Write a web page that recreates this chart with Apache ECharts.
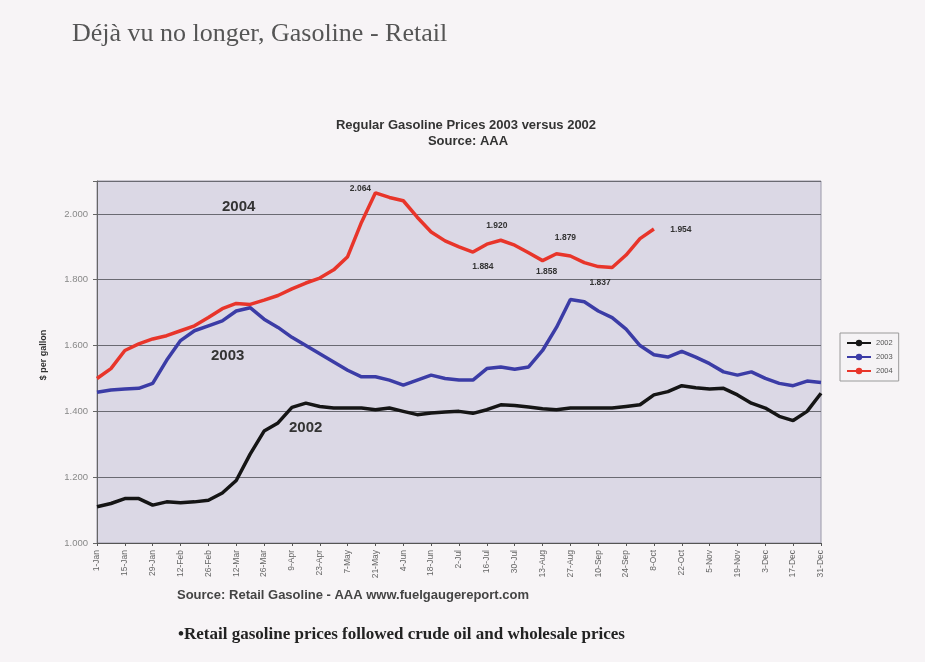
<!DOCTYPE html>
<html>
<head>
<meta charset="utf-8">
<script src="https://cdn.jsdelivr.net/npm/echarts@6/dist/echarts.min.js"></script>
<style>
  html, body { margin: 0; padding: 0; background: #f7f4f6; }
  #chart { width: 925px; height: 662px; }
</style>
</head>
<body>
<div id="chart"></div>
<script>
// Weekly dates (category axis)
var weeks = ['1-Jan','8-Jan','15-Jan','22-Jan','29-Jan','5-Feb','12-Feb','19-Feb','26-Feb','5-Mar','12-Mar','19-Mar','26-Mar',
  '2-Apr','9-Apr','16-Apr','23-Apr','30-Apr','7-May','14-May','21-May','28-May','4-Jun','11-Jun','18-Jun','25-Jun',
  '2-Jul','9-Jul','16-Jul','23-Jul','30-Jul','6-Aug','13-Aug','20-Aug','27-Aug','3-Sep','10-Sep','17-Sep','24-Sep',
  '1-Oct','8-Oct','15-Oct','22-Oct','29-Oct','5-Nov','12-Nov','19-Nov','26-Nov','3-Dec','10-Dec','17-Dec','24-Dec','31-Dec'];

var s2002 = [1.110,1.120,1.135,1.135,1.115,1.125,1.122,1.125,1.130,1.152,1.190,1.270,1.340,1.365,1.412,1.425,1.415,1.410,
  1.410,1.410,1.405,1.410,1.400,1.390,1.395,1.398,1.400,1.394,1.405,1.420,1.418,1.413,1.408,1.405,1.410,
  1.410,1.410,1.410,1.415,1.420,1.450,1.460,1.478,1.472,1.468,1.470,1.450,1.425,1.410,1.385,1.372,1.400,1.455];

var s2003 = [1.458,1.465,1.468,1.470,1.485,1.555,1.615,1.645,1.660,1.675,1.705,1.715,1.680,1.655,1.625,1.600,1.575,1.550,
  1.525,1.505,1.505,1.495,1.480,1.495,1.510,1.500,1.495,1.495,1.530,1.535,1.528,1.535,1.585,1.655,1.740,
  1.733,1.705,1.685,1.650,1.600,1.572,1.565,1.582,1.565,1.545,1.520,1.510,1.520,1.500,1.485,1.478,1.492,1.488];

var s2004 = [1.500,1.530,1.585,1.605,1.620,1.630,1.645,1.660,1.685,1.712,1.728,1.725,1.738,1.752,1.772,1.790,1.805,1.830,
  1.870,1.975,2.064,2.050,2.040,1.990,1.945,1.918,1.900,1.884,1.908,1.920,1.905,1.882,1.858,1.879,1.872,
  1.852,1.840,1.837,1.875,1.925,1.954];

var seriesNames = ['2002', '2003', '2004'];

// Annotated points on the 2004 curve: week index and label offset
var notes2004 = [
  {i: 20, dx: -15, dy: -4},
  {i: 29, dx: -4, dy: -15},
  {i: 27, dx: 10, dy: 15},
  {i: 33, dx: 9, dy: -16},
  {i: 32, dx: 4, dy: 11},
  {i: 37, dx: -12, dy: 15},
  {i: 40, dx: 27, dy: 1}
];

var chart = echarts.init(document.getElementById('chart'));

var markData = notes2004.map(function (n) {
  return {
    coord: [n.i, s2004[n.i]],
    name: s2004[n.i].toFixed(3),
    label: { offset: [n.dx, n.dy] }
  };
});

var option = {
  backgroundColor: '#f7f4f6',
  animation: false,
  title: [
    {
      text: 'Déjà vu no longer, Gasoline - Retail',
      left: 67, top: 16,
      textStyle: { fontFamily: 'Liberation Serif', fontSize: 26, fontWeight: 'normal', color: '#555' }
    }
  ],
  legend: {
    orient: 'vertical',
    left: 840, top: 333,
    padding: [6, 6],
    itemGap: 6,
    itemWidth: 24, itemHeight: 8,
    backgroundColor: '#f5f3f5',
    borderColor: '#9a9a9a', borderWidth: 1,
    textStyle: { fontSize: 7.5, color: '#555', fontFamily: 'Liberation Sans' },
    data: seriesNames
  },
  grid: {
    left: 97, right: 104, top: 181, bottom: 119,
    show: true, backgroundColor: '#dbd8e5', borderColor: '#9a98a8', borderWidth: 1
  },
  xAxis: {
    type: 'category',
    data: weeks,
    boundaryGap: false,
    axisLine: { lineStyle: { color: '#555', width: 1 } },
    axisTick: { interval: 1, length: 3, lineStyle: { color: '#555' } },
    axisLabel: { interval: 1, rotate: 90, fontSize: 8.5, color: '#666', fontFamily: 'Liberation Sans', margin: 7 },
    splitLine: { show: false }
  },
  yAxis: {
    type: 'value',
    min: 1.0, max: 2.1, interval: 0.2,
    axisLine: { show: true, lineStyle: { color: '#666' } },
    axisTick: { show: true, length: 4, lineStyle: { color: '#666' } },
    axisLabel: {
      fontSize: 9.5, color: '#888', fontFamily: 'Liberation Sans', margin: 9,
      formatter: function (v) { return v > 2.05 ? '' : v.toFixed(3); }
    },
    splitLine: { lineStyle: { color: '#6a6a72', width: 1 } }
  },
  series: [
    {
      name: '2002', type: 'line', data: s2002,
      symbol: 'circle', symbolSize: 5, showSymbol: false,
      lineStyle: { color: '#151515', width: 3.5 }, itemStyle: { color: '#151515' }
    },
    {
      name: '2003', type: 'line', data: s2003,
      symbol: 'circle', symbolSize: 5, showSymbol: false,
      lineStyle: { color: '#3b3ca6', width: 3.5 }, itemStyle: { color: '#3b3ca6' }
    },
    {
      name: '2004', type: 'line', data: s2004,
      symbol: 'none',
      lineStyle: { color: '#e8352a', width: 3.5 }, itemStyle: { color: '#e8352a' },
      markPoint: {
        symbol: 'circle', symbolSize: 0,
        label: {
          show: true, position: 'inside', formatter: function (p) { return p.name; },
          fontSize: 8.5, fontWeight: 'bold', color: '#333', fontFamily: 'Liberation Sans'
        },
        data: markData
      }
    }
  ],
  graphic: [
    { type: 'text', x: 466, y: 125, style: { text: 'Regular Gasoline Prices 2003 versus 2002', font: 'bold 13px "Liberation Sans"', fill: '#333', textAlign: 'center', textVerticalAlign: 'middle' } },
    { type: 'text', x: 468, y: 141, style: { text: 'Source: AAA', font: 'bold 13px "Liberation Sans"', fill: '#333', textAlign: 'center', textVerticalAlign: 'middle' } },
    { type: 'text', left: 222, top: 199, style: { text: '2004', font: 'bold 15px "Liberation Sans"', fill: '#333' } },
    { type: 'text', left: 211, top: 348, style: { text: '2003', font: 'bold 15px "Liberation Sans"', fill: '#333' } },
    { type: 'text', left: 289, top: 420, style: { text: '2002', font: 'bold 15px "Liberation Sans"', fill: '#333' } },
    { type: 'text', x: 44, y: 355, rotation: Math.PI / 2, style: { text: '$ per gallon', font: 'bold 9px "Liberation Sans"', fill: '#333', textAlign: 'center', textVerticalAlign: 'middle' } },
    { type: 'text', left: 177, top: 589, style: { text: 'Source: Retail Gasoline - AAA www.fuelgaugereport.com', font: 'bold 13px "Liberation Sans"', fill: '#444' } },
    { type: 'text', left: 178, top: 626, style: { text: '•Retail gasoline prices followed crude oil and wholesale prices', font: 'bold 17px "Liberation Serif"', fill: '#222' } }
  ]
};

chart.setOption(option);
</script>
</body>
</html>
